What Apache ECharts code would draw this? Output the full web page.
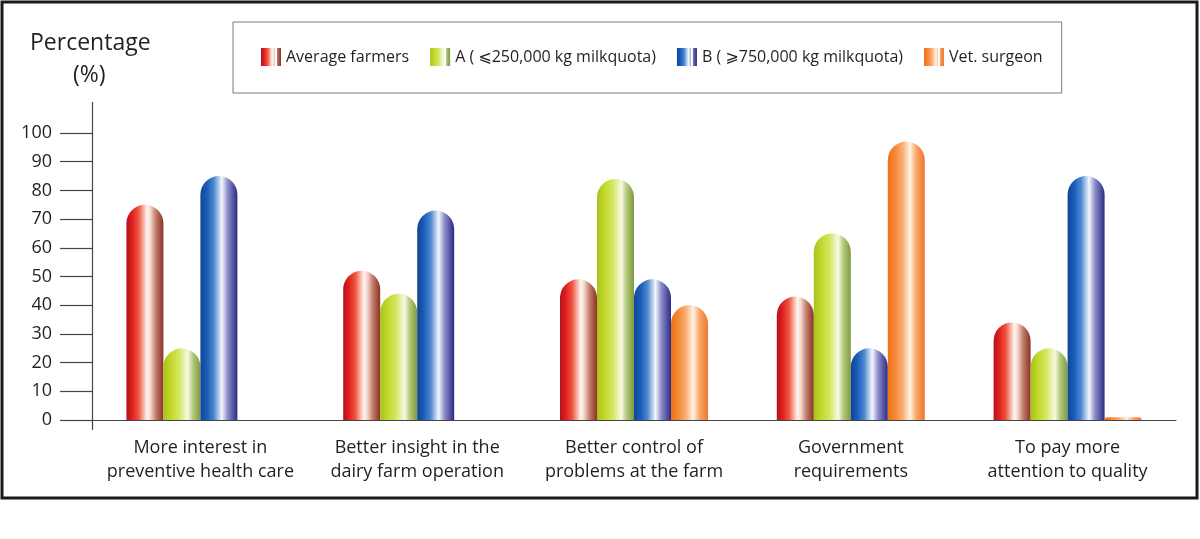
<!DOCTYPE html>
<html>
<head>
<meta charset="utf-8">
<script src="https://cdn.jsdelivr.net/npm/echarts@6/dist/echarts.min.js"></script>
<style>
html,body{margin:0;padding:0;background:#fff;}
#chart{width:1200px;height:539px;}
</style>
</head>
<body>
<div id="chart"></div>
<script>
var categories = ['More interest in\npreventive health care', 'Better insight in the\ndairy farm operation', 'Better control of\nproblems at the farm', 'Government\nrequirements', 'To pay more\nattention to quality'];
var seriesNames = ['Average farmers', 'A ( \u2A7D250,000 kg milkquota)', 'B ( \u2A7E750,000 kg milkquota)', 'Vet. surgeon'];
var averageFarmers = [75, 52, 49, 43, 34];
var groupA = [25, 44, 84, 65, 25];
var groupB = [85, 73, 49, 25, 85];
var vetSurgeon = [null, null, 40, 97, 1];
var yTicks = [0, 10, 20, 30, 40, 50, 60, 70, 80, 90, 100];

function grad(stops) {
  return new echarts.graphic.LinearGradient(0, 0, 1, 0, stops.map(function (s) { return { offset: s[0], color: s[1] }; }));
}
var colors = [
  grad([[0, '#b3121b'], [0.15, '#de1f1f'], [0.33, '#ee5640'], [0.56, '#fff5f0'], [0.64, '#f6ddd4'], [0.8, '#c27c6a'], [1, '#883224']]),
  grad([[0, '#a9c11a'], [0.2, '#c3d82b'], [0.42, '#d4e65e'], [0.66, '#f6f9e4'], [0.8, '#b3c97a'], [1, '#7d9a40']]),
  grad([[0, '#0f4598'], [0.18, '#1b5db8'], [0.36, '#4b86d0'], [0.58, '#f4f7fc'], [0.74, '#8a8cc8'], [1, '#2a2a86']]),
  grad([[0, '#ee6f17'], [0.2, '#f5893a'], [0.4, '#f9ae72'], [0.6, '#fff1e4'], [0.78, '#f8a463'], [1, '#ee7630']])
];
var dataSets = [averageFarmers, groupA, groupB, vetSurgeon];

var legendIcon = 'path://M0 0h14v18h-14z M16 0h4v18h-4z';
var font = '"Open Sans", "DejaVu Sans", sans-serif';

var chart = echarts.init(document.getElementById('chart'));
chart.setOption({
  animation: false,
  backgroundColor: '#fff',
  grid: { left: 92, right: 24, top: 133, bottom: 119 },
  legend: {
    left: 233, top: 22,
    padding: [26, 19, 27, 28],
    borderColor: '#7a7a7a', borderWidth: 1,
    itemWidth: 20, itemHeight: 18, itemGap: 21,
    icon: legendIcon,
    textStyle: { fontFamily: font, fontSize: 16, color: '#231f20' },
    data: seriesNames
  },
  xAxis: {
    type: 'category',
    data: categories,
    axisLine: { show: true, lineStyle: { color: '#444', width: 1.2 } },
    axisTick: { show: false },
    axisLabel: { margin: 16, fontFamily: font, fontSize: 18, lineHeight: 24, color: '#231f20', interval: 0 }
  },
  yAxis: {
    type: 'value', min: 0, max: 100, interval: 10,
    axisLine: { show: false },
    axisTick: { show: true, length: 32, lineStyle: { color: '#444', width: 1.2 } },
    axisLabel: { margin: 40, fontFamily: font, fontSize: 18, color: '#231f20' },
    splitLine: { show: false }
  },
  graphic: [
    { type: 'rect', shape: { x: 2, y: 2, width: 1195, height: 496 }, style: { fill: 'none', stroke: '#1a1a1a', lineWidth: 3 }, silent: true },
    { type: 'line', shape: { x1: 92.5, y1: 102, x2: 92.5, y2: 430 }, style: { stroke: '#444', lineWidth: 1.2 }, silent: true },
    { type: 'text', left: 30, top: 32, style: { text: 'Percentage', font: '23px ' + font, fill: '#231f20' } },
    { type: 'text', left: 73, top: 64, style: { text: '(%)', font: '23px ' + font, fill: '#231f20' } }
  ],
  series: dataSets.map(function (d, i) {
    return {
      name: seriesNames[i],
      type: 'bar',
      data: d,
      barWidth: 37,
      barGap: '0%',
      itemStyle: { color: colors[i], borderRadius: [18.5, 18.5, 0, 0] }
    };
  })
});
</script>
</body>
</html>
